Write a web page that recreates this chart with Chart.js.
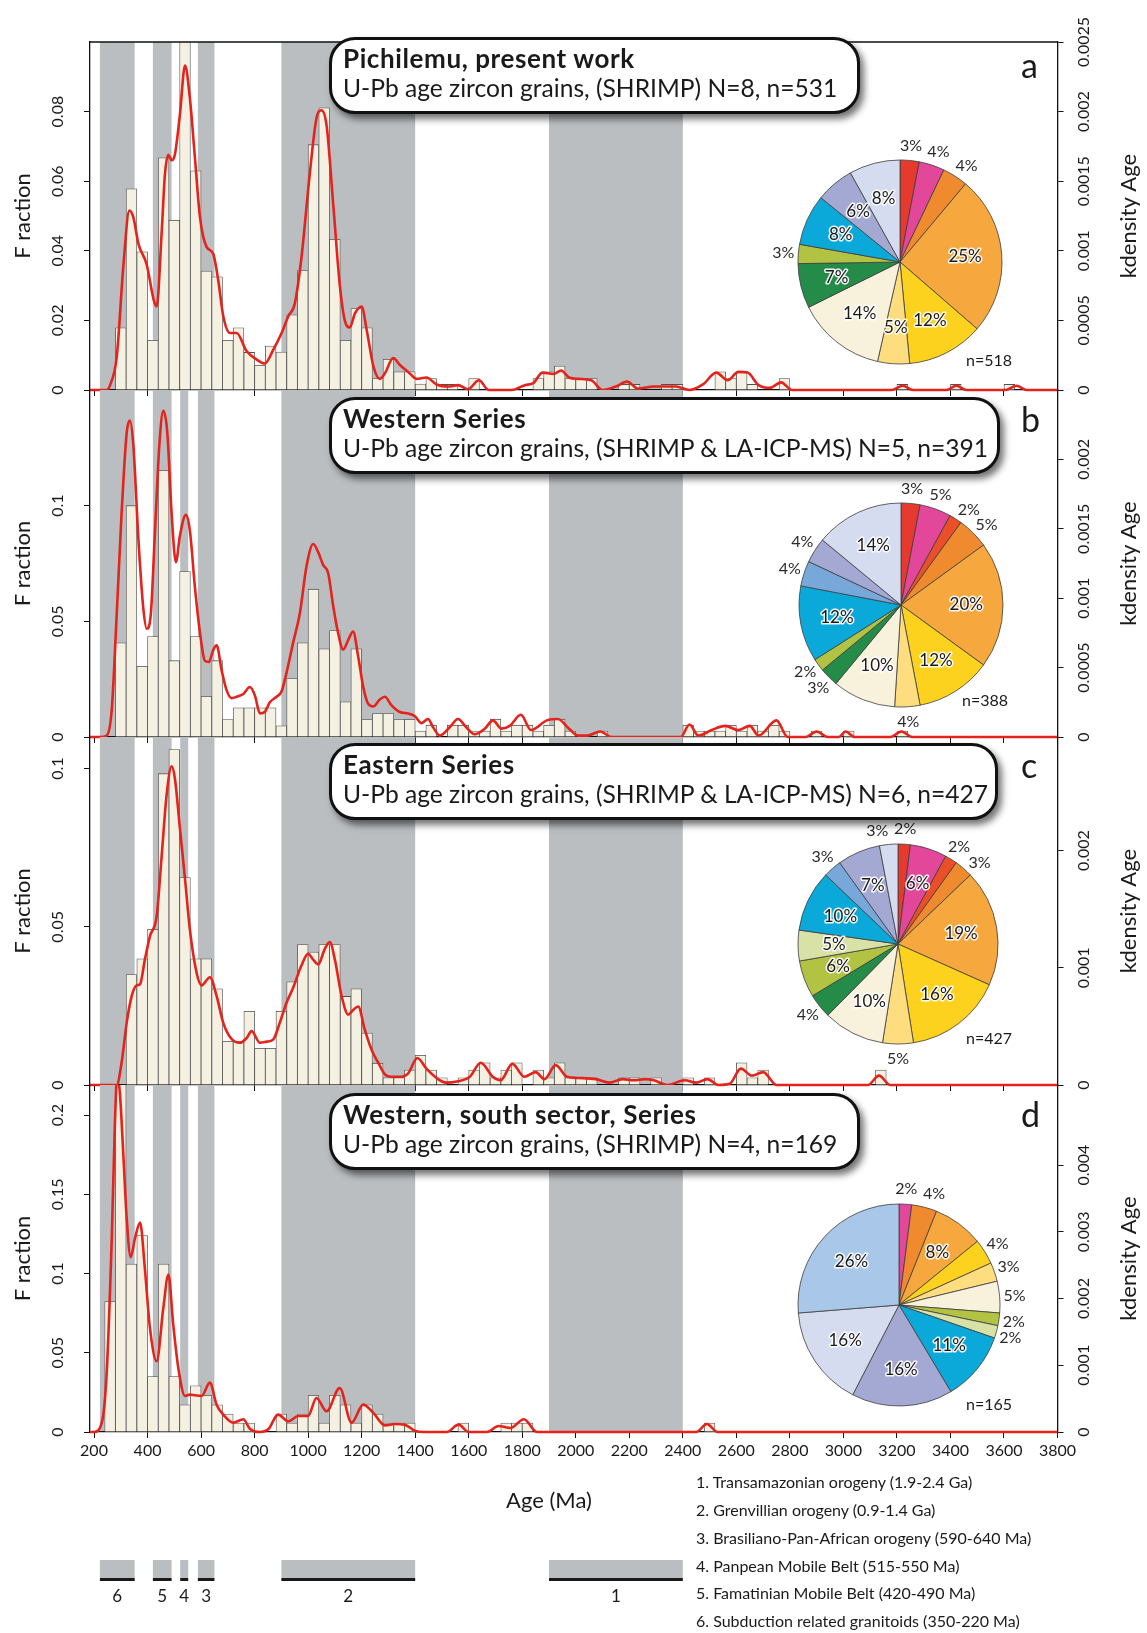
<!DOCTYPE html>
<html>
<head>
<meta charset="utf-8">
<script src="https://cdn.jsdelivr.net/npm/chart.js@4.4.1/dist/chart.umd.min.js"></script>
<style>
  body { margin: 0; background: #fff; }
  #page { position: relative; width: 1147px; height: 1633px; overflow: hidden; font-family: Lato, "Open Sans", sans-serif; color: #1a1a1a; }
  #page canvas { position: absolute; }
  .box { position: absolute; left: 329px; height: 77px; box-sizing: border-box; border: 3px solid #111; border-radius: 26px; background: #fff; box-shadow: 4px 5px 7px rgba(0,0,0,0.55); padding: 4px 0 0 11px; white-space: nowrap; font-size: 24.6px; line-height: 29px; }
  .box b { font-size: 26px; letter-spacing: 0.6px; }
  .letter { position: absolute; left: 1021px; font-size: 34px; line-height: 40px; }
  .nlab { position: absolute; font-size: 16px; line-height: 20px; }
  .leg { position: absolute; left: 696px; font-size: 16px; line-height: 20px; white-space: nowrap; }
</style>
</head>
<body>
<div id="page">
  <canvas id="panelA" width="1147" height="1633" style="left:0;top:0"></canvas>
  <canvas id="panelB" width="1147" height="1633" style="left:0;top:0"></canvas>
  <canvas id="panelC" width="1147" height="1633" style="left:0;top:0"></canvas>
  <canvas id="panelD" width="1147" height="1633" style="left:0;top:0"></canvas>

  <canvas id="pieA" width="300" height="300" style="left:750px;top:112px"></canvas>
  <canvas id="pieB" width="300" height="300" style="left:751px;top:455px"></canvas>
  <canvas id="pieC" width="300" height="300" style="left:748px;top:794px"></canvas>
  <canvas id="pieD" width="300" height="300" style="left:749px;top:1155px"></canvas>

  <div class="box" style="top:37px;width:531px"><b>Pichilemu, present work</b><br>U-Pb age zircon grains, (SHRIMP) N=8, n=531</div>
  <div class="box" style="top:397px;width:671px"><b>Western Series</b><br>U-Pb age zircon grains, (SHRIMP &amp; LA-ICP-MS) N=5, n=391</div>
  <div class="box" style="top:743px;width:669px"><b>Eastern Series</b><br>U-Pb age zircon grains, (SHRIMP &amp; LA-ICP-MS) N=6, n=427</div>
  <div class="box" style="top:1093px;width:531px"><b>Western, south sector, Series</b><br>U-Pb age zircon grains, (SHRIMP) N=4, n=169</div>

  <div class="letter" style="top:45px">a</div>
  <div class="letter" style="top:399px">b</div>
  <div class="letter" style="top:745px">c</div>
  <div class="letter" style="top:1094px">d</div>

  <div class="nlab" style="left:966px;top:350px">n=518</div>
  <div class="nlab" style="left:962px;top:690px">n=388</div>
  <div class="nlab" style="left:966px;top:1028px">n=427</div>
  <div class="nlab" style="left:966px;top:1394px">n=165</div>

  <div style="position:absolute;left:506px;top:1487px;font-size:22px;line-height:26px">Age (Ma)</div>
  <div class="leg" style="top:1472px">1. Transamazonian orogeny (1.9-2.4 Ga)</div>
  <div class="leg" style="top:1500px">2. Grenvillian orogeny (0.9-1.4 Ga)</div>
  <div class="leg" style="top:1528px">3. Brasiliano-Pan-African orogeny (590-640 Ma)</div>
  <div class="leg" style="top:1556px">4. Panpean Mobile Belt (515-550 Ma)</div>
  <div class="leg" style="top:1583px">5. Famatinian Mobile Belt (420-490 Ma)</div>
  <div class="leg" style="top:1611px">6. Subduction related granitoids (350-220 Ma)</div>
</div>

<script>
// Detrital zircon age spectra: histogram (40 Ma bins) + kernel density, four series

const FONT = 'Lato, "Open Sans", sans-serif';
const BIN_W = 40;
const X_MIN = 185, X_MAX = 3800;
const xTicks = [200, 400, 600, 800, 1000, 1200, 1400, 1600, 1800, 2000, 2200, 2400, 2600, 2800, 3000, 3200, 3400, 3600, 3800];

// orogenic events (Ma)
const bandNames = ["6", "5", "4", "3", "2", "1"];
const bandStart = [222, 420, 522, 588, 900, 1900];
const bandEnd = [352, 490, 552, 650, 1400, 2400];

// --- a: Pichilemu ---
const binsA = [280,320,360,400,440,480,520,560,600,640,680,720,760,800,840,880,920,960,1000,1040,1080,1120,1160,1200,1240,1280,1320,1360,1400,1440,1480,1520,1600,1840,1880,1920,1960,2000,2040,2160,2200,2320,2360,2520,2560,2600,2640,2760,3200,3400,3600];
const fracA = [0.0179,0.0578,0.0397,0.0143,0.0667,0.0488,0.105,0.063,0.0342,0.0325,0.0143,0.0179,0.0108,0.0071,0.0126,0.0109,0.0216,0.0343,0.0705,0.0811,0.0433,0.0143,0.0234,0.0179,0.0033,0.0088,0.0052,0.0052,0.0017,0.0033,0.0016,0.0016,0.0033,0.0033,0.0052,0.0069,0.0033,0.0033,0.0033,0.0016,0.0016,0.0016,0.0016,0.0052,0.0033,0.0052,0.0016,0.0033,0.0016,0.0016,0.0016];
const kdeAgeA = [185,247,260,285,310,332,347,366,397,424,434,453,465,478,490,502,521,540,558,577,596,620,645,664,683,708,733,770,807,838,870,901,926,950,975,1006,1031,1050,1069,1094,1118,1137,1156,1175,1200,1219,1244,1268,1287,1318,1343,1374,1405,1442,1480,1529,1560,1597,1638,1675,1760,1810,1842,1875,1917,1945,1975,2008,2058,2100,2150,2192,2233,2292,2333,2375,2425,2475,2525,2567,2608,2642,2683,2725,2767,2808,3180,3222,3260,3385,3422,3460,3605,3647,3685,3800];
const kdeA = [0,0,0.000035,0.00024,0.0009,0.00129,0.00124,0.00105,0.0009,0.00064,0.0006,0.00114,0.00155,0.00169,0.00165,0.00169,0.00198,0.00233,0.0021,0.00167,0.00124,0.00103,0.00098,0.00079,0.00053,0.00041,0.00041,0.00028,0.00022,0.00019,0.00029,0.00041,0.00053,0.00062,0.00095,0.00155,0.00195,0.00201,0.0019,0.00133,0.00076,0.0005,0.00045,0.00055,0.0006,0.00043,0.00017,0.00008,0.00012,0.00023,0.00018,0.00013,0.00008,0.00009,0.00004,0.000025,0.000035,0.000005,0.00007,0,0,0.000035,0.00005,0.000125,0.000115,0.00014,0.00009,0.00008,0.00007,0,0.000025,0.00006,0.00001,0.000025,0.000025,0.000025,0,0.00004,0.000125,0.00007,0.00013,0.000125,0.000035,0.000015,0.000055,0,0,0.00003,0,0,0.00003,0,0,0.00003,0,0];
const fracTicksA = [0, 0.02, 0.04, 0.06, 0.08];
const kdeTicksA = [0, 0.0005, 0.001, 0.0015, 0.002, 0.0025];

// --- b: Western Series ---
const binsB = [280,320,360,400,440,480,520,560,600,640,680,720,760,800,840,880,920,960,1000,1040,1080,1120,1160,1200,1240,1280,1320,1360,1400,1440,1520,1560,1600,1640,1680,1720,1760,1800,1840,1880,1920,1960,2080,2400,2440,2480,2520,2560,2600,2640,2680,2720,2760,2880,3000,3200];
const fracB = [0.0407,0.1,0.0306,0.0434,0.1153,0.033,0.0715,0.0434,0.0176,0.033,0.0075,0.0126,0.0126,0.0126,0.0126,0.0048,0.0253,0.0407,0.0639,0.0381,0.046,0.0152,0.0381,0.0075,0.0101,0.0101,0.0075,0.0077,0.0026,0.0051,0.0051,0.0051,0.0026,0.0026,0.0077,0.0026,0.0051,0.0051,0.0026,0.0051,0.0077,0.0026,0.0026,0.0051,0.0026,0.0026,0.0026,0.0051,0.0026,0.0051,0.0026,0.0051,0.0026,0.0026,0.0026,0.0026];
const kdeAgeB = [185,222,247,266,285,303,322,334,347,366,384,397,412,428,444,459,474,490,506,521,543,558,577,596,614,629,646,658,677,695,714,733,758,782,801,820,838,857,882,901,919,944,969,994,1019,1038,1056,1075,1094,1112,1131,1150,1168,1187,1206,1224,1243,1268,1287,1311,1343,1374,1399,1424,1448,1467,1492,1529,1560,1591,1622,1660,1691,1722,1753,1795,1833,1892,1933,1975,2008,2042,2092,2133,2392,2425,2458,2508,2558,2608,2650,2683,2750,2792,2858,2900,2942,2983,3008,3042,3175,3217,3258,3800];
const kdeB = [0,0,0.00001,0.00019,0.00089,0.00161,0.00219,0.00228,0.0021,0.00142,0.00093,0.00078,0.00088,0.00149,0.0021,0.00235,0.00219,0.00161,0.00126,0.00145,0.0016,0.00149,0.00108,0.00075,0.00055,0.00054,0.00063,0.00066,0.00048,0.00034,0.00028,0.00029,0.00031,0.00036,0.0003,0.00017,0.00018,0.00025,0.00029,0.00033,0.00046,0.00068,0.00089,0.00123,0.00139,0.00133,0.00124,0.00118,0.00094,0.00075,0.00063,0.0007,0.00076,0.00058,0.00036,0.00024,0.00022,0.00027,0.00029,0.00023,0.00018,0.00017,0.00015,0.0001,0.00013,0.00007,0.00001,0.00007,0.00013,0.00007,0.00002,0.00006,0.00012,0.00006,0.00008,0.00016,0.00005,0.00012,0.00013,0.00006,0.00001,0.00001,0.00004,0,0,0.00009,0.00001,0.00005,0.00008,0.00005,0.00008,0.00001,0.00012,0,0,0.00004,0,0,0.00004,0,0,0.00004,0,0];
const fracTicksB = [0, 0.05, 0.1];
const kdeTicksB = [0, 0.0005, 0.001, 0.0015, 0.002];

// --- c: Eastern Series ---
const binsC = [320,360,400,440,480,520,560,600,640,680,720,760,800,840,880,920,960,1000,1040,1080,1120,1160,1200,1240,1280,1320,1360,1400,1440,1480,1560,1600,1640,1680,1720,1760,1840,1880,1920,1960,2000,2040,2160,2200,2280,2400,2480,2600,2640,2680,3120];
const fracC = [0.0349,0.0399,0.0492,0.0984,0.106,0.0656,0.0399,0.0399,0.0304,0.0138,0.0138,0.0233,0.0116,0.0116,0.0233,0.0326,0.0444,0.042,0.0444,0.0444,0.028,0.0304,0.0164,0.0069,0.0023,0.0023,0.0047,0.0094,0.0047,0.0023,0.0023,0.0047,0.007,0.0023,0.0047,0.007,0.0047,0.0023,0.007,0.0023,0.0023,0.0023,0.0023,0.0023,0.0023,0.0023,0.0023,0.007,0.0023,0.0047,0.0047];
const kdeAgeC = [185,285,303,322,341,359,372,390,409,434,453,471,490,502,521,540,558,583,602,633,658,683,708,745,770,789,820,845,870,894,919,944,975,1000,1019,1038,1062,1081,1100,1125,1150,1168,1187,1212,1237,1262,1287,1311,1343,1374,1408,1442,1480,1515,1556,1604,1645,1690,1719,1763,1808,1850,1883,1925,1967,2008,2075,2125,2175,2217,2258,2292,2342,2408,2450,2492,2533,2575,2617,2658,2700,2750,3092,3133,3175,3800];
const kdeC = [0,0,0.00019,0.00053,0.00076,0.00085,0.00086,0.00107,0.00127,0.00144,0.00196,0.00247,0.00272,0.00262,0.00219,0.00176,0.00133,0.00096,0.00085,0.00092,0.00076,0.00053,0.00041,0.00036,0.0004,0.00046,0.00036,0.00037,0.00039,0.00053,0.0007,0.00083,0.00102,0.00112,0.00107,0.00103,0.00116,0.00122,0.00107,0.00076,0.0006,0.00064,0.00067,0.00047,0.0003,0.00019,0.00009,0.00007,0.00007,0.0001,0.00023,0.00014,0.00006,0.00002,0.00003,0.00007,0.00019,0.00007,0.00004,0.00018,0.00007,0.00011,0.00005,0.00017,0.00007,0.00006,0.00005,0.00002,0.00005,0.00004,0.00005,0.00004,0,0.00004,0.00002,0.00005,0,0.00001,0.00014,0.00008,0.00011,0,0,0.00008,0,0];
const fracTicksC = [0, 0.05, 0.1];
const kdeTicksC = [0, 0.001, 0.002];

// --- d: Western, south sector ---
const binsD = [240,280,320,360,400,440,480,520,560,600,640,680,720,760,880,920,960,1000,1040,1080,1120,1160,1200,1240,1280,1320,1360,1560,1720,1760,1800,2480];
const fracD = [0.0823,0.23,0.106,0.124,0.035,0.106,0.035,0.0172,0.0292,0.0231,0.0172,0.0113,0.0057,0.0057,0.0113,0.0057,0.0113,0.0231,0.0057,0.0231,0.0172,0.0057,0.0172,0.0113,0.0057,0.0057,0.0057,0.0057,0.0057,0.0057,0.0057,0.0057];
const kdeAgeD = [185,200,229,247,266,278,287,297,310,322,337,353,372,390,409,434,459,478,496,515,540,558,577,602,633,658,683,720,758,782,820,851,888,926,963,1000,1031,1069,1118,1162,1206,1243,1287,1324,1361,1398,1430,1518,1562,1600,1668,1712,1756,1806,1856,2450,2490,2530,3800];
const kdeD = [0,0,0.00014,0.00086,0.00286,0.00462,0.00536,0.00506,0.00412,0.00321,0.00262,0.0029,0.00314,0.00245,0.00156,0.00106,0.00186,0.00236,0.00161,0.00096,0.00054,0.00056,0.00055,0.00054,0.00074,0.00041,0.00026,0.00014,0.00019,0.00005,0,0.00004,0.00026,0.00016,0.00024,0.00024,0.00051,0.00031,0.00066,0.00014,0.00041,0.00029,0.0001,0.00012,0.00011,0.00002,0,0,0.00011,0,0,0.00009,0.00006,0.00019,0,0,0.00012,0,0];
const fracTicksD = [0, 0.05, 0.1, 0.15, 0.2];
const kdeTicksD = [0, 0.001, 0.002, 0.003, 0.004];

// pie insets: age-class shares (%)
const pieClassesA = ["red","magenta","orange","lorange","yellow","lyellow","cream","dgreen","ygreen","cyan","lavender","plav"];
const pieValuesA = [3,4,4,25,12,5,14,7,3,8,6,8];
const pieOutA = [1,1,1,0,0,0,0,0,1,0,0,0];
const pieClassesB = ["red","magenta","rorange","orange","lorange","yellow","lyellow","cream","dgreen","ygreen","cyan","mblue","lavender","plav"];
const pieValuesB = [3,5,2,5,20,12,4,10,3,2,12,4,4,14];
const pieOutB = [1,1,1,1,0,0,1,0,1,1,0,1,1,0];
const pieClassesC = ["red","magenta","rorange","orange","lorange","yellow","lyellow","cream","dgreen","ygreen","pgreen","cyan","mblue","lavender","plav"];
const pieValuesC = [2,6,2,3,19,16,5,10,4,6,5,10,3,7,3];
const pieOutC = [1,0,1,1,0,0,1,0,1,0,0,0,1,0,1];
const pieClassesD = ["magenta","orange","lorange","yellow","lyellow","cream","ygreen","pgreen","cyan","lavender","plav","lblue"];
const pieValuesD = [2,4,8,4,3,5,2,2,11,16,16,26];
const pieOutD = [1,1,0,1,1,1,1,1,0,0,0,0];

const CLASS_COLORS = {
  red: "#e63a2e", magenta: "#e2479a", rorange: "#ea4f2a", orange: "#f08a2e",
  lorange: "#f6a73d", yellow: "#fcd21e", lyellow: "#fedd7e", cream: "#f8f2dd",
  dgreen: "#248b49", ygreen: "#b2c344", pgreen: "#d9e2a6", cyan: "#0ba9d9",
  mblue: "#78a8da", lavender: "#a4a9d4", plav: "#d6dcef", lblue: "#a9c7e8"
};
const BAND_COLOR = "#bbbec1";
const PLOT_L = 90, PLOT_R = 1057.5, PAGE_W = 1147, PAGE_H = 1633;
const X_AXIS_H = 40; // room under each panel for the age labels

const panelDecor = {
  id: "panelDecor",
  beforeDraw(chart) {
    const { ctx, chartArea: a, scales: { x } } = chart;
    ctx.save();
    ctx.beginPath();
    ctx.rect(a.left, a.top, a.right - a.left, a.bottom - a.top - 0.5);
    ctx.clip();
    ctx.fillStyle = BAND_COLOR;
    bandStart.forEach((s, i) => {
      const x0 = x.getPixelForValue(s);
      const x1 = x.getPixelForValue(bandEnd[i]);
      ctx.fillRect(x0, a.top, x1 - x0, a.bottom - a.top);
    });
    ctx.restore();
  },
  afterDraw(chart, args, opts) {
    const { ctx, chartArea: a, scales } = chart;
    ctx.save();
    ctx.fillStyle = "#1a1a1a";
    if (opts.topLine) {
      ctx.strokeStyle = "#111";
      ctx.lineWidth = 1.3;
      ctx.beginPath();
      ctx.moveTo(a.left, a.top);
      ctx.lineTo(a.right, a.top);
      ctx.stroke();
    }
    const rot = (text, cx, cy, font) => {
      ctx.save();
      ctx.translate(cx, cy);
      ctx.rotate(-Math.PI / 2);
      ctx.font = font;
      ctx.textAlign = "center";
      ctx.textBaseline = "middle";
      ctx.fillText(text, 0, 0);
      ctx.restore();
    };
    scales.y.ticks.forEach((t) => rot(String(t.value), 58, scales.y.getPixelForValue(t.value), "16px " + FONT));
    scales.y2.ticks.forEach((t) => rot(String(t.value), 1084, scales.y2.getPixelForValue(t.value), "16px " + FONT));
    const mid = (a.top + a.bottom) / 2;
    rot("F raction", 23, mid, "22px " + FONT);
    rot("kdensity Age", 1129, mid, "22px " + FONT);

    if (opts.bandLegend) {
      const x = scales.x;
      bandStart.forEach((s, i) => {
        const x0 = x.getPixelForValue(s);
        const x1 = x.getPixelForValue(bandEnd[i]);
        ctx.fillStyle = BAND_COLOR;
        ctx.fillRect(x0, 1560, x1 - x0, 18);
        ctx.fillStyle = "#1a1a1a";
        ctx.fillRect(x0, 1578, x1 - x0, 3);
        ctx.font = "17px " + FONT;
        ctx.textAlign = "center";
        ctx.textBaseline = "middle";
        ctx.fillText(bandNames[i], (x0 + x1) / 2, 1597);
      });
    }
    ctx.restore();
  }
};

function buildPanel(id, p) {
  const ctx = document.getElementById(id);
  return new Chart(ctx, {
    type: "bar",
    data: {
      datasets: [
        {
          type: "line",
          data: p.kdeAge.map((age, i) => ({ x: age, y: p.kde[i] })),
          yAxisID: "y2",
          borderColor: "#e4231c",
          borderWidth: 2.6,
          pointRadius: 0,
          cubicInterpolationMode: "monotone",
          clip: { left: 0, right: 0, top: 0, bottom: 4 },
          order: 1,
        },
        {
          type: "bar",
          data: p.bins.map((b, i) => ({ x: b + BIN_W / 2, y: p.frac[i] })),
          yAxisID: "y",
          backgroundColor: "#f4f0e2",
          borderColor: "#505050",
          borderWidth: 0.8,
          barPercentage: 1,
          categoryPercentage: 1,
          clip: 0,
          order: 2,
        },
      ],
    },
    options: {
      responsive: false,
      animation: false,
      events: [],
      layout: {
        padding: { left: PLOT_L, right: PAGE_W - PLOT_R, top: p.top, bottom: PAGE_H - p.bottom - X_AXIS_H },
      },
      plugins: {
        legend: { display: false },
        tooltip: { enabled: false },
        panelDecor: { topLine: p.topLine, bandLegend: p.showX },
      },
      scales: {
        x: {
          type: "linear",
          offset: false,
          min: X_MIN,
          max: X_MAX,
          afterBuildTicks: (s) => { s.ticks = xTicks.map((v) => ({ value: v })); },
          afterFit: (s) => { s.height = X_AXIS_H; },
          grid: { drawOnChartArea: false, tickLength: 6, color: "#111", offset: false },
          border: { color: "#111", width: 1.3 },
          ticks: {
            display: p.showX,
            autoSkip: false,
            maxRotation: 0,
            padding: 3,
            color: "#1a1a1a",
            font: { family: FONT, size: 16 },
            callback: (v) => String(v),
          },
        },
        y: {
          position: "left",
          min: 0,
          max: p.fracMax,
          afterBuildTicks: (s) => { s.ticks = p.fracTicks.map((v) => ({ value: v })); },
          afterFit: (s) => { s.width = 0; },
          grid: { drawOnChartArea: false, tickLength: 6, color: "#111" },
          border: { color: "#111", width: 1.3 },
          ticks: { display: false },
        },
        y2: {
          position: "right",
          min: 0,
          max: p.kdeMax,
          afterBuildTicks: (s) => { s.ticks = p.kdeTicks.map((v) => ({ value: v })); },
          afterFit: (s) => { s.width = 0; },
          grid: { drawOnChartArea: false, tickLength: 6, color: "#111" },
          border: { color: "#111", width: 1.3 },
          ticks: { display: false },
        },
      },
    },
    plugins: [panelDecor],
  });
}

buildPanel("panelA", { top: 42, bottom: 390, bins: binsA, frac: fracA, kdeAge: kdeAgeA, kde: kdeA, fracMax: 0.1, fracTicks: fracTicksA, kdeMax: 0.0025, kdeTicks: kdeTicksA, topLine: true, showX: false });
buildPanel("panelB", { top: 390, bottom: 737, bins: binsB, frac: fracB, kdeAge: kdeAgeB, kde: kdeB, fracMax: 0.15, fracTicks: fracTicksB, kdeMax: 0.0025, kdeTicks: kdeTicksB, topLine: false, showX: false });
buildPanel("panelC", { top: 737, bottom: 1085, bins: binsC, frac: fracC, kdeAge: kdeAgeC, kde: kdeC, fracMax: 0.11, fracTicks: fracTicksC, kdeMax: 0.00297, kdeTicks: kdeTicksC, topLine: false, showX: false });
buildPanel("panelD", { top: 1085, bottom: 1432, bins: binsD, frac: fracD, kdeAge: kdeAgeD, kde: kdeD, fracMax: 0.219, fracTicks: fracTicksD, kdeMax: 0.0052, kdeTicks: kdeTicksD, topLine: false, showX: true });

// percent labels on pie slices, inside or just outside the rim
const pieLabels = {
  id: "pieLabels",
  afterDatasetsDraw(chart, args, opts) {
    const { ctx } = chart;
    const values = chart.data.datasets[0].data;
    const meta = chart.getDatasetMeta(0);
    const placed = [];
    ctx.save();
    ctx.textAlign = "center";
    ctx.textBaseline = "middle";
    meta.data.forEach((arc, i) => {
      const midA = (arc.startAngle + arc.endAngle) / 2;
      const out = opts.outside[i] === 1;
      const r = out ? arc.outerRadius + 15 : arc.outerRadius * 0.64;
      let x = arc.x + Math.cos(midA) * r;
      let y = arc.y + Math.sin(midA) * r;
      const text = values[i] + "%";
      if (out) {
        // slide along the rim until clear of labels already placed
        const tx = -Math.sin(midA), ty = Math.cos(midA);
        for (let k = 0; k < 25; k++) {
          const hit = placed.find((p) => Math.abs(p.x - x) < 27 && Math.abs(p.y - y) < 15);
          if (!hit) break;
          const s = ((x - hit.x) * tx + (y - hit.y) * ty) < 0 ? -1 : 1;
          x += s * 2 * tx;
          y += s * 2 * ty;
        }
        placed.push({ x, y });
        ctx.font = "16px " + FONT;
        ctx.fillStyle = "#2a2a2a";
        ctx.fillText(text, x, y);
      } else {
        ctx.font = "17px " + FONT;
        ctx.lineWidth = 3;
        ctx.strokeStyle = "rgba(255,255,255,0.9)";
        ctx.lineJoin = "round";
        ctx.strokeText(text, x, y);
        ctx.fillStyle = "#1a1a1a";
        ctx.fillText(text, x, y);
      }
    });
    ctx.restore();
  },
};

function buildPie(id, classes, values, outside, radius) {
  return new Chart(document.getElementById(id), {
    type: "pie",
    data: {
      labels: classes,
      datasets: [{
        data: values,
        backgroundColor: classes.map((c) => CLASS_COLORS[c]),
        borderColor: "#3c3c3c",
        borderWidth: 0.8,
      }],
    },
    options: {
      responsive: false,
      animation: false,
      events: [],
      radius: radius,
      plugins: {
        legend: { display: false },
        tooltip: { enabled: false },
        pieLabels: { outside: outside },
      },
    },
    plugins: [pieLabels],
  });
}

buildPie("pieA", pieClassesA, pieValuesA, pieOutA, 102);
buildPie("pieB", pieClassesB, pieValuesB, pieOutB, 102);
buildPie("pieC", pieClassesC, pieValuesC, pieOutC, 100);
buildPie("pieD", pieClassesD, pieValuesD, pieOutD, 101);
</script>
</body>
</html>
